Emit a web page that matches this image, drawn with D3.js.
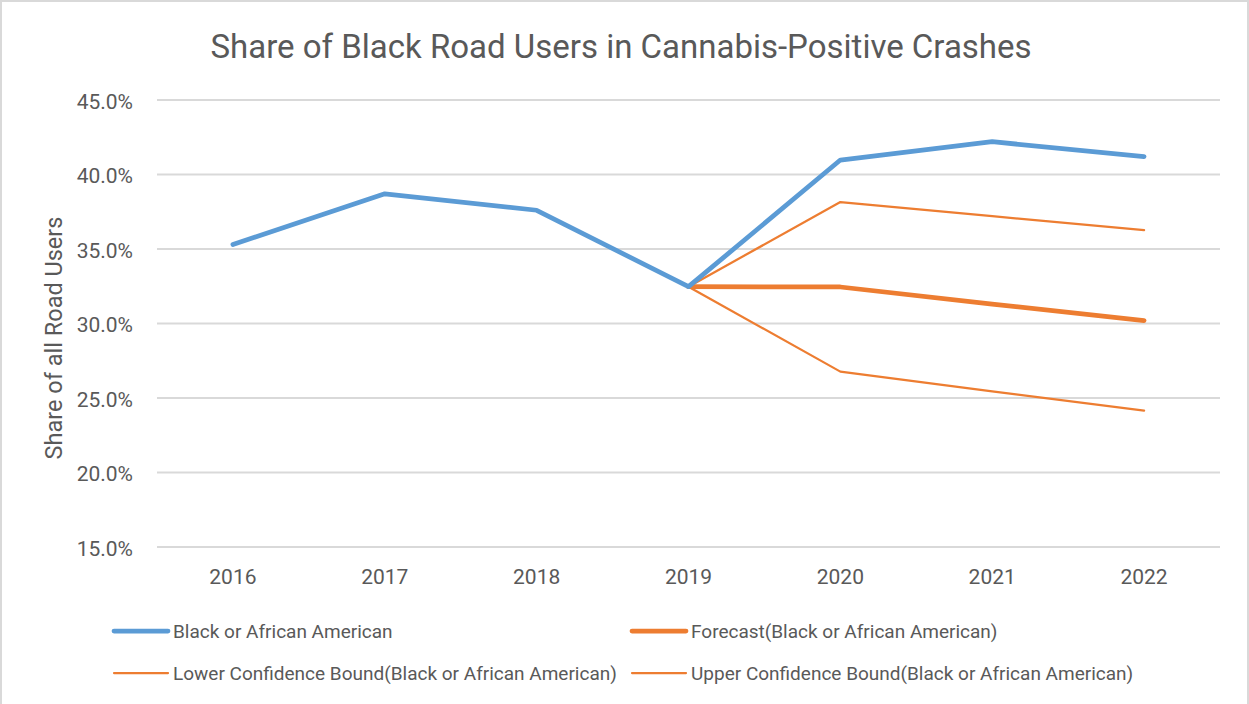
<!DOCTYPE html>
<html>
 <head>
  <title>Share of Black Road Users</title>
  <script src="https://cdnjs.cloudflare.com/ajax/libs/d3/7.8.3/d3.min.js"></script>
  <style>
   body { margin: 0; background: #fff; }
   text { font-family: "Roboto", "Liberation Sans", sans-serif; fill: #595959; }
  </style>
 </head>
 <body>
  <script>
   // data
   const years = ["2016", "2017", "2018", "2019", "2020", "2021", "2022"];
   const black = [35.3, 38.7, 37.6, 32.47, 40.97, 42.2, 41.2];
   const forecast = [null, null, null, 32.47, 32.45, 31.3, 30.2];
   const lower = [null, null, null, 32.47, 26.77, 25.45, 24.15];
   const upper = [null, null, null, 32.47, 38.15, 37.2, 36.27];
   const yTicks = [15, 20, 25, 30, 35, 40, 45];

   const w = 1249, h = 704;
   const padL = 157, padR = 1220, padT = 100, padB = 547;
   const blue = "#5B9BD5", orange = "#ED7D31";

   const svg = d3.select("body").append("svg")
                 .attr("width", w)
                 .attr("height", h);

   // chart area border
   svg.append("rect")
      .attr("x", 1).attr("y", 1)
      .attr("width", w - 2).attr("height", h + 10)
      .attr("fill", "#fff")
      .attr("stroke", "#d9d9d9")
      .attr("stroke-width", 2);

   const x = d3.scaleBand().domain(years).range([padL, padR]);
   const y = d3.scaleLinear().domain([15, 45]).range([padB, padT]);

   // gridlines
   svg.append("g")
      .selectAll("line")
      .data(yTicks)
      .enter()
      .append("line")
      .attr("x1", padL).attr("x2", padR)
      .attr("y1", d => y(d)).attr("y2", d => y(d))
      .attr("stroke", "#d9d9d9")
      .attr("stroke-width", 2);

   const yAxis = d3.axisLeft(y)
                   .tickValues(yTicks)
                   .tickSize(0)
                   .tickPadding(24)
                   .tickFormat(d => d.toFixed(1) + "%");
   const gy = svg.append("g")
                 .attr("transform", "translate(" + padL + ",0)")
                 .call(yAxis);
   gy.select(".domain").remove();
   gy.selectAll("text").style("font-size", "21px").attr("dy", "0.4em");

   const xAxis = d3.axisBottom(x).tickSize(0).tickPadding(22);
   const gx = svg.append("g")
                 .attr("transform", "translate(0," + padB + ")")
                 .call(xAxis);
   gx.select(".domain").remove();
   gx.selectAll("text").style("font-size", "21px");

   const line = d3.line()
                  .defined(d => d != null)
                  .x((d, i) => x(years[i]) + x.bandwidth() / 2)
                  .y(d => y(d));

   const series = [
    {name: "Lower Confidence Bound(Black or African American)", values: lower, color: orange, width: 2.25},
    {name: "Upper Confidence Bound(Black or African American)", values: upper, color: orange, width: 2.25},
    {name: "Forecast(Black or African American)", values: forecast, color: orange, width: 4.75},
    {name: "Black or African American", values: black, color: blue, width: 4.75}
   ];

   svg.append("g")
      .selectAll("path")
      .data(series)
      .enter()
      .append("path")
      .attr("d", d => line(d.values))
      .attr("fill", "none")
      .attr("stroke", d => d.color)
      .attr("stroke-width", d => d.width)
      .attr("stroke-linejoin", "round")
      .attr("stroke-linecap", "round");

   // title
   svg.append("text")
      .attr("x", 621)
      .attr("y", 58)
      .attr("text-anchor", "middle")
      .style("font-size", "33px")
      .text("Share of Black Road Users in Cannabis-Positive Crashes");

   // y axis title
   svg.append("text")
      .attr("transform", "translate(62,338) rotate(-90)")
      .attr("text-anchor", "middle")
      .style("font-size", "23.5px")
      .text("Share of all Road Users");

   // legend
   const legendItems = [
    {s: series[3], x: 114, y: 631},
    {s: series[2], x: 632, y: 631},
    {s: series[0], x: 114, y: 673},
    {s: series[1], x: 632, y: 673}
   ];
   const lg = svg.append("g")
                 .selectAll("g")
                 .data(legendItems)
                 .enter()
                 .append("g")
                 .attr("transform", d => "translate(" + d.x + "," + d.y + ")");
   lg.append("line")
     .attr("x1", 0).attr("x2", 54)
     .attr("y1", 0).attr("y2", 0)
     .attr("stroke", d => d.s.color)
     .attr("stroke-width", d => d.s.width)
     .attr("stroke-linecap", "round");
   lg.append("text")
     .attr("x", 59)
     .attr("dy", "0.36em")
     .style("font-size", "19px")
     .text(d => d.s.name);
  </script>
 </body>
</html>
